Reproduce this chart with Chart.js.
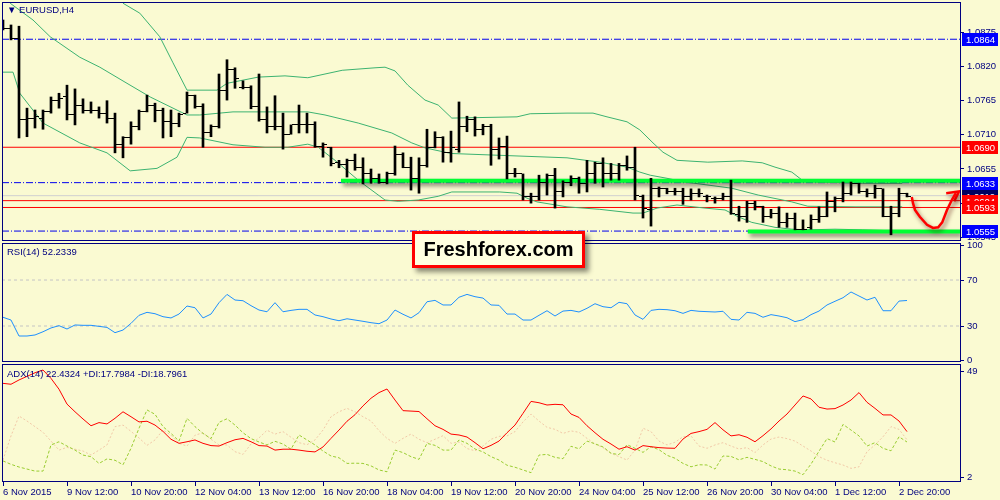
<!DOCTYPE html>
<html>
<head>
<meta charset="utf-8">
<script src="https://cdn.jsdelivr.net/npm/chart.js@4.4.0/dist/chart.umd.min.js"></script>
<style>
  body { margin: 0; width: 1000px; height: 500px; overflow: hidden; position: relative; background: #fafad2; font-family: "Liberation Sans", Arial, sans-serif; }
  canvas { position: absolute; left: 0; }
  .lbl { position: absolute; color: #000080; font-size: 9.5px; line-height: 12px; white-space: nowrap; z-index: 2; }
  #logo { position: absolute; left: 412px; top: 231px; width: 167px; height: 31px; border: 3px solid #ff0000; background: #ffffe0;
          box-shadow: 4px 4px 5px rgba(0,0,0,0.45); font: bold 20px "Liberation Sans", Arial, sans-serif; color: #000;
          text-align: center; line-height: 31px; z-index: 3; }
</style>
</head>
<body>
<canvas id="cPrice" width="1000" height="243" style="top:0"></canvas>
<canvas id="cRsi" width="1000" height="121" style="top:242px"></canvas>
<canvas id="cAdx" width="1000" height="137" style="top:363px"></canvas>
<div class="lbl" style="left:7px;top:4px">&#9660; EURUSD,H4</div>
<div class="lbl" style="left:7px;top:246px">RSI(14) 52.2339</div>
<div class="lbl" style="left:7px;top:368px">ADX(14) 22.4324 +DI:17.7984 -DI:18.7961</div>
<div id="logo">Freshforex.com</div>
<script>
// EURUSD H4 bars, 6 Nov 2015 -> 3 Dec 2015
const opens = [1.0887,1.0882,1.0866,1.0734,1.0737,1.0737,1.0747,1.0766,1.0771,1.0742,
  1.0758,1.0750,1.0750,1.0745,1.0737,1.0695,1.0705,1.0723,1.0747,1.0758,
  1.0750,1.0731,1.0729,1.0745,1.0773,1.0756,1.0713,1.0723,1.0781,1.0815,
  1.0787,1.0787,1.0755,1.0734,1.0724,1.0723,1.0711,1.0726,1.0727,1.0727,
  1.0692,1.0689,1.0666,1.0663,1.0668,1.0657,1.0647,1.0639,1.0634,1.0648,
  1.0679,1.0658,1.0639,1.0660,1.0689,1.0705,1.0682,1.0686,1.0724,1.0734,
  1.0718,1.0723,1.0687,1.0692,1.0648,1.0647,1.0610,1.0611,1.0634,1.0645,
  1.0618,1.0634,1.0640,1.0632,1.0647,1.0664,1.0648,1.0647,1.0661,1.0658,
  1.0610,1.0590,1.0623,1.0623,1.0619,1.0618,1.0610,1.0616,1.0611,1.0607,
  1.0607,1.0611,1.0582,1.0578,1.0600,1.0595,1.0579,1.0584,1.0568,1.0576,
  1.0558,1.0560,1.0573,1.0579,1.0603,1.0607,1.0616,1.0632,1.0619,1.0616,
  1.0623,1.0579,1.0584,1.0616];
const highs = [1.0895,1.0887,1.0885,1.0753,1.0750,1.0750,1.0771,1.0777,1.0790,1.0784,
  1.0768,1.0763,1.0755,1.0765,1.0745,1.0707,1.0731,1.0750,1.0774,1.0761,
  1.0753,1.0750,1.0745,1.0779,1.0774,1.0760,1.0726,1.0808,1.0831,1.0818,
  1.0797,1.0789,1.0808,1.0755,1.0773,1.0745,1.0726,1.0758,1.0745,1.0731,
  1.0697,1.0690,1.0669,1.0671,1.0679,1.0673,1.0655,1.0647,1.0650,1.0692,
  1.0681,1.0674,1.0673,1.0719,1.0715,1.0707,1.0716,1.0763,1.0740,1.0739,
  1.0727,1.0727,1.0705,1.0708,1.0656,1.0647,1.0616,1.0645,1.0647,1.0656,
  1.0636,1.0644,1.0642,1.0669,1.0666,1.0673,1.0664,1.0664,1.0676,1.0690,
  1.0613,1.0640,1.0626,1.0624,1.0624,1.0624,1.0623,1.0623,1.0613,1.0610,
  1.0616,1.0637,1.0595,1.0603,1.0603,1.0595,1.0590,1.0594,1.0584,1.0584,
  1.0573,1.0581,1.0594,1.0618,1.0610,1.0634,1.0634,1.0632,1.0623,1.0629,
  1.0623,1.0595,1.0624,1.0616];
const lows = [1.0879,1.0863,1.0705,1.0707,1.0721,1.0719,1.0745,1.0753,1.0734,1.0726,
  1.0745,1.0745,1.0737,1.0729,1.0681,1.0673,1.0695,1.0718,1.0747,1.0731,
  1.0705,1.0707,1.0723,1.0745,1.0753,1.0690,1.0707,1.0721,1.0766,1.0785,
  1.0784,1.0752,1.0732,1.0713,1.0718,1.0687,1.0711,1.0713,1.0713,1.0690,
  1.0674,1.0660,1.0657,1.0642,1.0653,1.0631,1.0632,1.0632,1.0631,1.0645,
  1.0657,1.0621,1.0616,1.0658,1.0689,1.0666,1.0666,1.0682,1.0715,1.0708,
  1.0710,1.0661,1.0671,1.0639,1.0642,1.0605,1.0600,1.0605,1.0613,1.0592,
  1.0610,1.0628,1.0616,1.0618,1.0632,1.0626,1.0637,1.0637,1.0653,1.0605,
  1.0576,1.0563,1.0610,1.0615,1.0613,1.0598,1.0605,1.0610,1.0602,1.0600,
  1.0605,1.0582,1.0571,1.0569,1.0589,1.0569,1.0576,1.0561,1.0561,1.0557,
  1.0557,1.0558,1.0569,1.0578,1.0586,1.0602,1.0613,1.0616,1.0610,1.0608,
  1.0578,1.0549,1.0578,1.0610];
const closes = [1.0882,1.0866,1.0734,1.0737,1.0739,1.0747,1.0766,1.0769,1.0742,1.0758,
  1.0750,1.0750,1.0745,1.0737,1.0695,1.0705,1.0723,1.0747,1.0758,1.0750,
  1.0731,1.0729,1.0742,1.0773,1.0756,1.0713,1.0723,1.0781,1.0815,1.0800,
  1.0787,1.0755,1.0734,1.0724,1.0723,1.0711,1.0726,1.0727,1.0727,1.0692,
  1.0695,1.0664,1.0663,1.0668,1.0657,1.0647,1.0639,1.0634,1.0648,1.0679,
  1.0658,1.0639,1.0660,1.0689,1.0705,1.0682,1.0689,1.0724,1.0734,1.0718,
  1.0723,1.0687,1.0692,1.0648,1.0647,1.0610,1.0611,1.0634,1.0645,1.0618,
  1.0634,1.0640,1.0632,1.0647,1.0664,1.0648,1.0647,1.0661,1.0658,1.0613,
  1.0592,1.0623,1.0623,1.0619,1.0618,1.0611,1.0616,1.0616,1.0610,1.0607,
  1.0611,1.0584,1.0579,1.0600,1.0595,1.0579,1.0584,1.0568,1.0576,1.0558,
  1.0558,1.0573,1.0579,1.0603,1.0608,1.0616,1.0632,1.0618,1.0616,1.0623,
  1.0579,1.0584,1.0616,1.0611];

// Bollinger bands, [bar, price]
const bbUpper = [[15,1.0922],[17.1,1.0906],[19.6,1.0868],[21.25,1.0826],[23,1.0782],[26.75,1.0782],[28,1.0793],
  [31.9,1.0803],[35.25,1.0805],[38.1,1.0802],[42.4,1.0814],[46.5,1.0818],[47.75,1.0819],[49,1.0813],[50.6,1.0790],
  [52.75,1.0766],[54.4,1.0758],[56.1,1.0737],[64.25,1.0739],[65.9,1.0744],[70.5,1.0745],[73.75,1.0745],[75.5,1.0739],
  [78,1.0731],[79.6,1.0718],[81.25,1.0697],[82.5,1.0682],[84.25,1.0669],[88.1,1.0666],[92.4,1.0668],[94.9,1.0665],
  [96.5,1.0658],[98.6,1.0650],[99.9,1.0637],[101.9,1.0634],[107.4,1.0632],[112.4,1.0632]];
const bbMiddle = [[0.9,1.0922],[3.75,1.0895],[5.9,1.0868],[9.6,1.0835],[12.1,1.0819],[15.5,1.0793],[18.4,1.0771],
  [21.25,1.0753],[23,1.0742],[24.6,1.0742],[28.75,1.0747],[31.9,1.0747],[38.1,1.0747],[40.25,1.0742],[44.4,1.0729],
  [48.6,1.0713],[51.1,1.0697],[52.75,1.0689],[56,1.0680],[58,1.0679],[64.25,1.0676],[70.5,1.0673],[74.6,1.0666],
  [78,1.0658],[79.6,1.0650],[80.9,1.0645],[83,1.0640],[85.25,1.0634],[91.1,1.0624],[94.4,1.0613],[98.6,1.0602],
  [100.6,1.0595],[106.5,1.0594],[112.4,1.0594]];
const bbLower = [[0,1.0811],[1.25,1.0811],[2.1,1.0777],[5,1.0729],[9.6,1.0697],[13,1.0681],[15.9,1.0652],[19.25,1.0656],
  [21.75,1.0674],[23,1.0706],[24.6,1.0705],[28.75,1.0694],[32.75,1.0690],[35.6,1.0690],[38.1,1.0695],[39.4,1.0690],
  [41.5,1.0669],[44.4,1.0637],[47.75,1.0605],[49.4,1.0603],[51.9,1.0605],[54.4,1.0611],[56.1,1.0618],[62.1,1.0618],
  [64.25,1.0616],[65.5,1.0608],[66.75,1.0602],[70.5,1.0594],[74.6,1.0590],[78.75,1.0584],[80,1.0584],[81.75,1.0592],
  [84.25,1.0597],[87.75,1.0592],[90.25,1.0589],[91.9,1.0578],[93.6,1.0569],[96.5,1.0561],[98.6,1.0558],[100.6,1.0557],
  [104,1.0558],[107.4,1.0557],[112.4,1.0555]];

// levels drawn on the chart
const blueLevels = [1.0864, 1.0633, 1.0555];
const redLevels = [1.0690, 1.0604, 1.0593];
const bidLevel = 1.0612;
const greenLevels = [1.0636, 1.05545];
const greenFrom = [42.25, 93.1];
const arrowPath = [[113.6,1.0610],[113.75,1.0600],[114,1.0589],[114.6,1.0578],[115.5,1.0565],[116.25,1.0560],
  [116.9,1.0561],[117.4,1.0569],[118,1.0589],[118.6,1.0605],[119.1,1.0616]];
const arrowHead = [[117.9,1.0616],[119.5,1.0619],[118.9,1.0603]];
const tagLevels = [1.0612, 1.0604, 1.0593, 1.0690, 1.0864, 1.0633, 1.0555];
const tagColors = ['#000060', '#ff0000', '#ff0000', '#ff0000', '#0000ff', '#0000ff', '#0000ff'];
const priceTicks = [1.0545, 1.0600, 1.0655, 1.0710, 1.0765, 1.0820, 1.0875];

// indicators, one value per bar
const rsi = [37.6,35.2,21.3,21.3,22.2,25.0,28.3,30.3,27.4,30.9,
  30.6,30.6,29.7,28.8,24.2,26.5,32.3,39.3,41.9,40.7,
  38.1,37.0,40.4,47.4,45.9,37.0,40.4,50.3,57.5,52.6,
  52.0,47.7,43.9,42.4,50.3,42.4,43.6,44.5,44.5,39.6,
  38.1,36.1,34.6,36.3,35.2,34.1,32.9,32.0,35.2,43.9,
  40.2,37.0,41.6,51.1,52.3,48.3,48.3,55.0,57.5,55.5,
  54.3,48.3,48.0,40.4,40.4,35.2,35.2,39.3,43.3,38.7,
  43.0,43.6,42.2,45.4,49.4,46.8,45.9,50.6,49.4,39.6,
  35.8,43.6,44.5,44.2,43.3,41.0,43.6,42.8,42.5,42.2,
  42.8,35.8,35.2,41.9,41.0,37.6,39.9,38.7,37.2,33.8,
  35.5,39.9,43.0,48.3,51.5,54.6,59.6,56.1,52.6,55.0,
  43.3,43.3,51.7,52.2];
const rsiLevels = [70, 30];
const rsiTicks = [0, 30, 70, 100];
const adx = [43.8,43.4,45.3,46.9,48.5,49.7,46.0,41.2,34.6,31.2,
  28.0,25.0,26.4,25.8,28.3,31.2,29.0,26.7,27.0,25.3,
  22.5,19.0,17.2,17.9,18.7,17.2,16.2,16.0,17.5,18.8,
  19.4,17.9,16.2,16.0,14.2,14.6,14.6,14.2,13.7,13.4,
  15.6,19.4,23.1,27.0,29.9,33.8,37.2,39.7,41.3,36.4,
  31.7,31.5,31.3,28.1,25.0,23.4,21.3,20.9,20.0,17.5,
  14.8,16.3,18.2,21.9,25.3,30.5,35.8,35.2,34.2,34.5,
  34.3,30.2,28.7,25.0,21.9,19.0,16.9,14.6,15.7,14.2,
  16.2,15.7,15.3,15.1,15.0,19.1,21.6,22.4,23.4,26.4,
  23.2,20.5,21.0,19.9,17.9,20.6,23.6,27.1,30.2,34.2,
  38.2,36.9,33.2,32.4,32.6,34.2,36.4,39.7,35.4,32.7,
  29.8,29.8,27.1,22.4];
const plusDI = [9.4,7.9,6.7,5.8,4.9,4.9,16.5,17.9,16.0,14.2,
  12.0,11.3,8.3,10.3,9.7,7.7,15.0,23.9,32.0,30.1,
  24.6,21.6,18.2,28.3,24.6,21.6,19.3,26.5,28.1,25.3,
  21.9,19.3,17.8,16.5,18.1,16.9,14.6,20.9,18.7,16.5,
  13.8,11.6,10.8,8.3,8.4,8.3,7.2,5.4,4.6,14.2,
  13.1,11.3,10.1,17.2,16.3,14.2,14.2,18.7,17.2,14.7,
  13.4,11.3,9.8,7.5,6.6,5.4,4.2,12.0,12.3,11.0,
  10.4,15.9,14.8,18.2,17.0,15.6,12.8,12.2,16.6,15.0,
  13.2,15.7,14.4,11.9,10.6,8.3,6.8,7.7,7.6,5.8,
  11.6,11.4,9.9,11.0,10.1,9.1,7.2,5.8,5.5,4.9,
  3.3,8.0,13.7,19.3,17.8,25.6,23.1,20.5,16.0,17.5,
  15.0,13.9,20.1,17.8];
const minusDI = [9.8,20.5,29.3,27.1,24.6,22.1,18.2,14.2,15.4,14.6,
  13.8,12.0,14.2,16.5,24.6,25.3,22.5,19.6,16.3,18.7,
  23.1,20.8,17.2,16.0,20.8,21.9,19.0,16.5,16.5,13.5,
  12.3,16.9,19.6,23.0,21.3,22.4,19.9,17.5,16.6,18.7,
  23.1,29.0,31.2,32.7,31.2,29.0,27.1,22.8,19.4,17.2,
  19.4,21.3,19.0,17.5,19.0,20.6,17.2,17.8,14.9,13.9,
  16.0,19.0,20.3,20.5,22.4,26.7,30.2,27.1,24.3,23.4,
  21.6,22.7,22.1,19.4,16.9,15.3,12.8,11.3,9.8,14.2,
  23.9,22.4,18.2,16.5,17.7,20.1,20.5,16.0,15.0,16.5,
  17.5,16.0,14.7,15.3,13.1,16.5,19.1,20.0,19.3,18.2,
  16.0,13.8,11.3,9.7,8.6,7.6,6.1,6.8,13.5,16.5,
  20.1,24.6,23.4,18.8];
const adxTicks = [2, 49];

// time axis: one label every 8 bars
const timeTickBars = [0, 8, 16, 24, 32, 40, 48, 56, 64, 72, 80, 88, 96, 104, 112];
const timeLabels = ['6 Nov 2015', '9 Nov 12:00', '10 Nov 20:00', '12 Nov 04:00', '13 Nov 12:00', '16 Nov 20:00',
  '18 Nov 04:00', '19 Nov 12:00', '20 Nov 20:00', '24 Nov 04:00', '25 Nov 12:00', '26 Nov 20:00',
  '30 Nov 04:00', '1 Dec 12:00', '2 Dec 20:00'];

const BG = '#fafad2';
const NAVY = '#000080';
const FONT = { family: '"Liberation Sans", Arial, sans-serif', size: 9.5 };
const X_MIN = -0.125, X_MAX = 119.625;

Chart.defaults.font.family = FONT.family;
Chart.defaults.font.size = FONT.size;

const framePlugin = {
  id: 'frame',
  beforeDraw(chart) {
    const ctx = chart.ctx;
    ctx.save();
    ctx.fillStyle = BG;
    ctx.fillRect(0, 0, chart.width, chart.height);
    ctx.restore();
  },
  afterDraw(chart) {
    const { ctx, chartArea: a } = chart;
    ctx.save();
    ctx.strokeStyle = NAVY;
    ctx.lineWidth = 1;
    ctx.strokeRect(a.left + 0.5, a.top + 0.5, a.right - a.left, a.bottom - a.top - 1);
    ctx.restore();
  }
};

const shadowPlugin = {
  id: 'shadow',
  beforeDatasetDraw(chart, args) {
    const ds = chart.data.datasets[args.index];
    if (!ds.shadow) return;
    const c = chart.ctx;
    c.save();
    c.shadowColor = ds.shadow;
    c.shadowBlur = 4;
    c.shadowOffsetX = 2;
    c.shadowOffsetY = 3;
  },
  afterDatasetDraw(chart, args) {
    if (chart.data.datasets[args.index].shadow) chart.ctx.restore();
  }
};

const tagPlugin = {
  id: 'tags',
  afterDraw(chart) {
    const y = chart.scales.y, ctx = chart.ctx, left = chart.chartArea.right + 2;
    ctx.save();
    ctx.font = FONT.size + 'px ' + FONT.family;
    ctx.textBaseline = 'middle';
    tagLevels.forEach((v, k) => {
      const py = Math.round(y.getPixelForValue(v));
      ctx.fillStyle = tagColors[k];
      ctx.fillRect(left, py - 6, 36, 13);
      ctx.fillStyle = '#ffffff';
      ctx.fillText(v.toFixed(4), left + 4, py + 1);
    });
    ctx.restore();
  }
};

function tickImage(side) {
  const c = document.createElement('canvas');
  c.width = 8; c.height = 1;
  const g = c.getContext('2d');
  g.fillStyle = '#000';
  g.fillRect(side === 'open' ? 0 : 5, 0, 3, 1);
  return c;
}

function hline(v, color, dash, width, from) {
  return {
    type: 'line', data: [{ x: from === undefined ? X_MIN : from, y: v }, { x: X_MAX, y: v }],
    borderColor: color, borderWidth: width || 1, borderDash: dash || [], pointRadius: 0
  };
}

function pathLine(points, color, width, dash) {
  return {
    type: 'line', data: points.map(p => ({ x: p[0], y: p[1] })),
    borderColor: color, borderWidth: width, borderDash: dash || [], pointRadius: 0, tension: 0
  };
}

function noPad(sc) {
  sc.paddingTop = 0; sc.paddingBottom = 0; sc.paddingLeft = 0; sc.paddingRight = 0;
}

function xScale(show) {
  return {
    type: 'linear', min: X_MIN, max: X_MAX, display: show, offset: false,
    afterBuildTicks: sc => { sc.ticks = timeTickBars.map(v => ({ value: v })); },
    afterFit: sc => { if (show) sc.height = 18; noPad(sc); },
    grid: { drawOnChartArea: false, tickLength: 4, color: NAVY, offset: false },
    border: { display: false },
    ticks: {
      color: NAVY, font: FONT, align: 'start', padding: 1, autoSkip: false, maxRotation: 0,
      callback: v => timeLabels[timeTickBars.indexOf(v)]
    }
  };
}

function yScale(min, max, ticks, fmt) {
  return {
    position: 'right', min: min, max: max,
    afterFit: s => { s.width = 40; noPad(s); },
    afterBuildTicks: s => { s.ticks = ticks.map(v => ({ value: v })); },
    grid: { drawOnChartArea: false, tickLength: 4, color: NAVY },
    border: { display: false },
    ticks: { color: NAVY, font: FONT, padding: 3, callback: fmt }
  };
}

function baseOptions(scales, padding) {
  return {
    responsive: false, animation: false, events: [],
    layout: { padding: padding, autoPadding: false },
    plugins: { legend: { display: false }, tooltip: { enabled: false } },
    scales: scales
  };
}

// price panel
const priceDatasets = [
  { type: 'scatter', data: opens.map((o, i) => ({ x: i, y: o })), pointStyle: tickImage('open'), pointRadius: 2 },
  { type: 'scatter', data: closes.map((c, i) => ({ x: i, y: c })), pointStyle: tickImage('close'), pointRadius: 2 },
  { type: 'bar', data: lows.map((l, i) => ({ x: i, y: [l, highs[i]] })), backgroundColor: '#000', borderWidth: 0, barThickness: 2 },
  Object.assign(pathLine(arrowPath, '#ff0000', 2.5), { shadow: 'rgba(80,0,0,0.55)' }),
  Object.assign(pathLine(arrowHead, '#ff0000', 2.5), { shadow: 'rgba(80,0,0,0.55)' }),
  ...greenLevels.map((v, k) => Object.assign(hline(v, '#00ff33', [], 4, greenFrom[k]), { shadow: 'rgba(0,0,0,0.5)' })),
  pathLine(bbUpper, '#3cb371', 1),
  pathLine(bbMiddle, '#3cb371', 1),
  pathLine(bbLower, '#3cb371', 1),
  ...blueLevels.map(v => hline(v, '#0000ee', [7, 2, 1, 2])),
  ...redLevels.map(v => hline(v, '#ff0000')),
  hline(bidLevel, '#d0d0d0')
];

new Chart(document.getElementById('cPrice'), {
  type: 'scatter',
  data: { datasets: priceDatasets },
  options: baseOptions({
    x: xScale(false),
    y: yScale(1.0539, 1.0924, priceTicks, v => v.toFixed(4))
  }, { left: 2, top: 2, right: 0, bottom: 2 }),
  plugins: [framePlugin, shadowPlugin, tagPlugin]
});

// RSI panel
new Chart(document.getElementById('cRsi'), {
  type: 'scatter',
  data: {
    datasets: [
      pathLine(rsi.map((v, i) => [i, v]), '#1e90ff', 1),
      ...rsiLevels.map(v => hline(v, '#c4c4c4', [3, 3]))
    ]
  },
  options: baseOptions({
    x: xScale(false),
    y: yScale(-1.3, 102.2, rsiTicks, v => String(v))
  }, { left: 2, top: 1, right: 0, bottom: 1 }),
  plugins: [framePlugin]
});

// ADX panel
new Chart(document.getElementById('cAdx'), {
  type: 'scatter',
  data: {
    datasets: [
      pathLine(adx.map((v, i) => [i, v]), '#ff0000', 1),
      pathLine(plusDI.map((v, i) => [i, v]), '#9acd32', 1, [3, 2]),
      pathLine(minusDI.map((v, i) => [i, v]), '#f2c9a8', 1, [2, 2])
    ]
  },
  options: baseOptions({
    x: xScale(true),
    y: yScale(0.06, 52.38, adxTicks, v => String(v))
  }, { left: 2, top: 1, right: 0, bottom: 0 }),
  plugins: [framePlugin]
});
</script>
</body>
</html>
